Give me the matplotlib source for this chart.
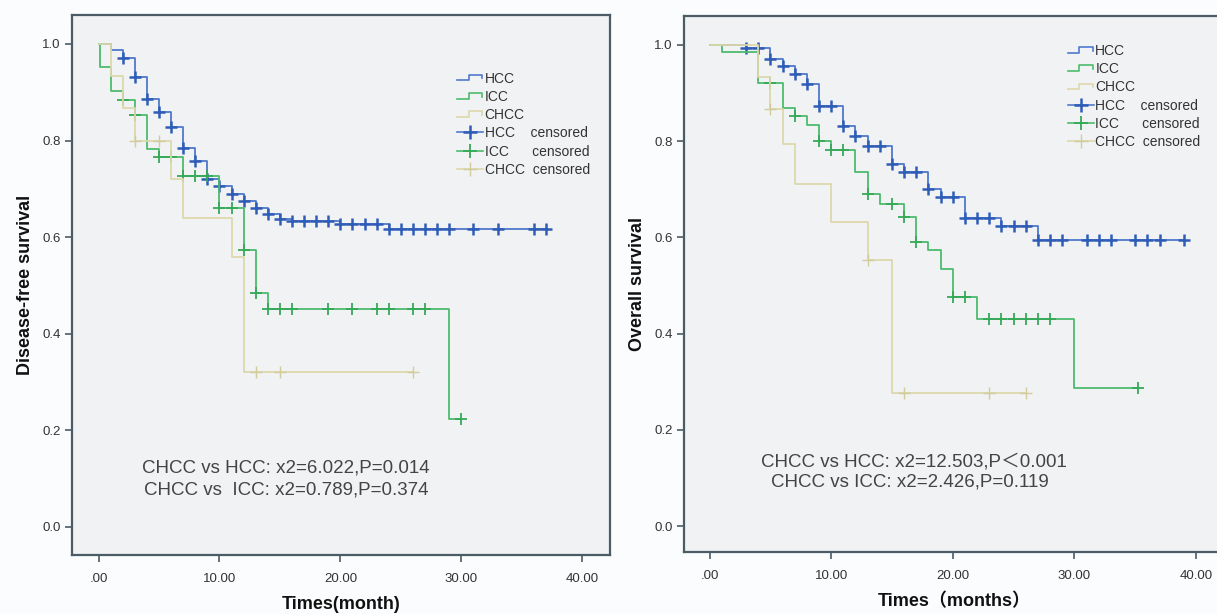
import numpy as np
import matplotlib.pyplot as plt
from matplotlib.legend_handler import HandlerBase
from matplotlib.lines import Line2D

plt.rcParams['font.family'] = ['Liberation Sans', 'Noto Sans CJK SC', 'DejaVu Sans']

# ---- Disease-free survival (left) ----
dfs_hcc_t = [0, 1, 2, 3, 4, 5, 6, 7, 8, 9, 10, 11, 12, 13, 14, 15, 16, 20, 24, 37]
dfs_hcc_s = [1.0, 0.988, 0.970, 0.932, 0.887, 0.860, 0.829, 0.784, 0.757, 0.720,
             0.705, 0.689, 0.674, 0.660, 0.647, 0.638, 0.633, 0.628, 0.616, 0.616]
dfs_hcc_c = [2, 3, 4, 5, 6, 7, 8, 9, 10, 11, 12, 13, 14, 15, 16, 17, 18, 19, 20,
             21, 22, 23, 24, 25, 26, 27, 28, 29, 31, 33, 36, 37]

dfs_icc_t = [0, 0.1, 1, 2, 3, 4, 5, 7, 10, 12, 13, 14, 29, 30]
dfs_icc_s = [1.0, 0.953, 0.903, 0.884, 0.852, 0.783, 0.765, 0.726, 0.660, 0.573,
             0.485, 0.452, 0.223, 0.223]
dfs_icc_c = [2, 3, 5, 6, 7, 8, 9, 10, 11, 12, 13, 14, 15, 16, 19, 21, 23, 24, 26, 27, 30]

dfs_chcc_t = [0, 1, 2, 3, 6, 7, 11, 12, 26]
dfs_chcc_s = [1.0, 0.933, 0.867, 0.800, 0.720, 0.640, 0.560, 0.320, 0.320]
dfs_chcc_c = [3, 5, 13, 15, 26]

# ---- Overall survival (right) ----
os_hcc_t = [0, 3, 5, 6, 7, 8, 9, 11, 12, 13, 15, 16, 18, 19, 21, 24, 27, 39]
os_hcc_s = [1.0, 0.993, 0.970, 0.956, 0.939, 0.918, 0.873, 0.832, 0.811, 0.790,
            0.752, 0.735, 0.700, 0.683, 0.640, 0.624, 0.595, 0.595]
os_hcc_c = [3, 4, 5, 6, 7, 8, 9, 10, 11, 12, 13, 14, 15, 16, 17, 18, 19, 20, 21,
            22, 23, 24, 25, 26, 27, 28, 29, 31, 32, 33, 35, 36, 37, 39]

os_icc_t = [0, 1, 4, 6, 7, 8, 9, 10, 12, 13, 14, 16, 17, 18, 19, 20, 22, 30, 35.2]
os_icc_s = [1.0, 0.986, 0.920, 0.869, 0.853, 0.834, 0.800, 0.782, 0.735, 0.690,
            0.670, 0.643, 0.590, 0.573, 0.535, 0.477, 0.430, 0.287, 0.287]
os_icc_c = [5, 7, 9, 10, 11, 13, 15, 16, 17, 20, 21, 23, 24, 25, 26, 27, 28, 35.2]

os_chcc_t = [0, 4, 5, 6, 7, 10, 13, 15, 26]
os_chcc_s = [1.0, 0.933, 0.867, 0.794, 0.711, 0.631, 0.553, 0.276, 0.276]
os_chcc_c = [5, 13, 16, 23, 26]

x_ticks = [0, 10, 20, 30, 40]
x_ticklabels = ['.00', '10.00', '20.00', '30.00', '40.00']
y_ticks = [0.0, 0.2, 0.4, 0.6, 0.8, 1.0]
y_ticklabels = ['0.0', '0.2', '0.4', '0.6', '0.8', '1.0']

groups = ['HCC', 'ICC', 'CHCC']
line_colors = ['#4f79cd', '#4dbb6d', '#dcd8ab']
mark_colors = ['#2f5cb6', '#35a957', '#d2cc9c']
mark_widths = [1.8, 1.3, 1.0]

spine_col = '#4b5c66'
text_col = '#333333'


class StepHandler(HandlerBase):
    def create_artists(self, legend, orig_handle, xdescent, ydescent,
                       width, height, fontsize, trans):
        x0, y0 = -xdescent, -ydescent
        xs = [x0, x0 + width * 0.45, x0 + width * 0.45, x0 + width * 0.95, x0 + width * 0.95]
        ys = [y0 + height * 0.25, y0 + height * 0.25, y0 + height * 0.8,
              y0 + height * 0.8, y0 + height * 0.45]
        ln = Line2D(xs, ys, color=orig_handle.get_color(), lw=1.2, transform=trans)
        return [ln]


def step_value(t, s, tc):
    idx = np.searchsorted(t, tc, side='right') - 1
    return np.asarray(s)[idx]


fig = plt.figure(figsize=(12.17, 6.14), dpi=100, facecolor='#fbfcfd')
ax1 = fig.add_axes([72 / 1217, 1 - 555 / 614, 538 / 1217, 540 / 614])
ax2 = fig.add_axes([684 / 1217, 1 - 552 / 614, 540 / 1217, 536 / 614])

panels = [
    (ax1, [(dfs_hcc_t, dfs_hcc_s, dfs_hcc_c), (dfs_icc_t, dfs_icc_s, dfs_icc_c),
           (dfs_chcc_t, dfs_chcc_s, dfs_chcc_c)],
     (-2.2, 42.3), (-0.058, 1.06), 'Disease-free survival', 'Times(month)',
     ['CHCC vs HCC: x2=6.022,P=0.014', 'CHCC vs  ICC: x2=0.789,P=0.374'],
     [(15.5, 0.122), (15.5, 0.076)], (0.705, 0.905)),
    (ax2, [(os_hcc_t, os_hcc_s, os_hcc_c), (os_icc_t, os_icc_s, os_icc_c),
           (os_chcc_t, os_chcc_s, os_chcc_c)],
     (-2.1, 42.3), (-0.054, 1.06), 'Overall survival', 'Times（months）',
     ['CHCC vs HCC: x2=12.503,P＜0.001', 'CHCC vs ICC: x2=2.426,P=0.119'],
     [(16.8, 0.133), (16.5, 0.091)], (0.700, 0.958)),
]

for ax, curves, xl, yl, ylab, xlab, notes, note_pos, leg_pos in panels:
    ax.set_facecolor('#f1f2f4')
    step_handles = []
    cens_handles = []
    for (t, s, c), name, lc, mc, mw in zip(curves, groups, line_colors, mark_colors, mark_widths):
        h, = ax.step(t, s, where='post', color=lc, lw=1.3)
        ax.plot(c, step_value(t, s, c), ls='none', marker='+', ms=9, mew=mw, color=mc)
        step_handles.append(h)
        cens_handles.append(Line2D([], [], color=lc, lw=1.2, marker='+', ms=10,
                                   mew=mw, markeredgecolor=mc))
    ax.set_xlim(*xl)
    ax.set_ylim(*yl)
    ax.set_xticks(x_ticks)
    ax.set_xticklabels(x_ticklabels)
    ax.set_yticks(y_ticks)
    ax.set_yticklabels(y_ticklabels)
    ax.tick_params(direction='out', length=5, width=1.2, color=spine_col,
                   labelsize=9.5, labelcolor=text_col, pad=3)
    ax.tick_params(axis='x', pad=8)
    for sp in ax.spines.values():
        sp.set_color(spine_col)
        sp.set_linewidth(1.6)
    ax.set_ylabel(ylab, fontsize=13, fontweight='bold', color='#111111', labelpad=6)
    ax.set_xlabel(xlab, fontsize=13, fontweight='bold', color='#111111', labelpad=8)
    for txt, (px, py) in zip(notes, note_pos):
        ax.text(px, py, txt, ha='center', va='center', fontsize=13.5, color='#444444')
    labels = ['HCC', 'ICC', 'CHCC', 'HCC    censored', 'ICC      censored', 'CHCC  censored']
    handler_map = {h: StepHandler() for h in step_handles}
    ax.legend(step_handles + cens_handles, labels, handler_map=handler_map,
              loc='upper left', bbox_to_anchor=leg_pos, frameon=False, fontsize=10,
              handlelength=1.9, handletextpad=0.1, labelspacing=0.3,
              borderaxespad=0, labelcolor=text_col)

fig.savefig('out.png', dpi=100, facecolor=fig.get_facecolor())
